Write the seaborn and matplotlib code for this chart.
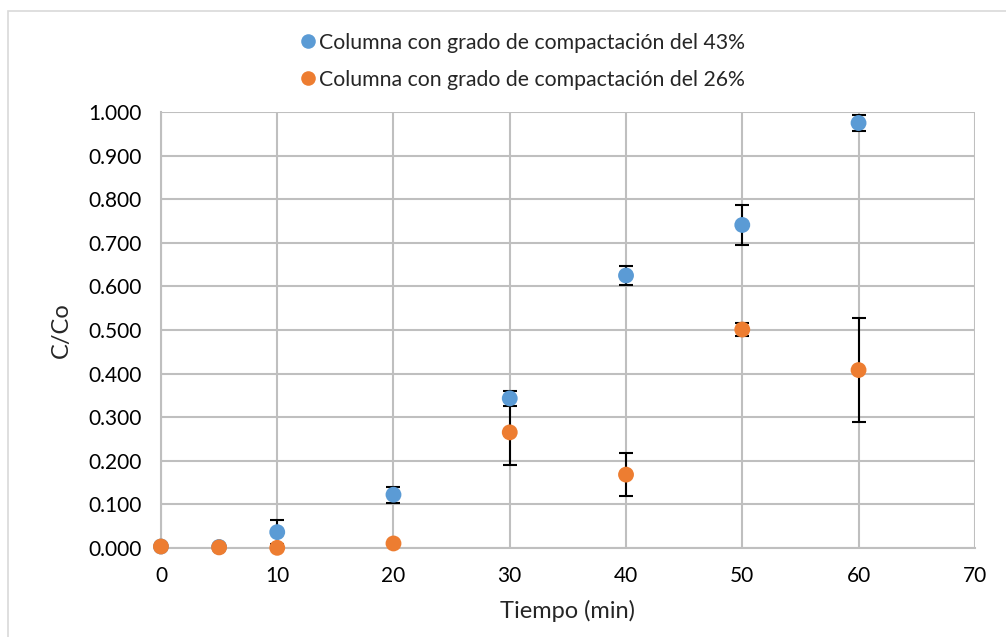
import matplotlib
matplotlib.use("Agg")
import matplotlib.pyplot as plt
import matplotlib.patches as mpatches
from matplotlib.lines import Line2D
from matplotlib.ticker import FormatStrFormatter, MultipleLocator
import seaborn as sns
import pandas as pd

# Breakthrough data: relative concentration C/Co over time
tiempo = [0, 5, 10, 20, 30, 40, 50, 60]
cc_43 = [0.003, 0.002, 0.036, 0.122, 0.343, 0.625, 0.741, 0.975]
err_43 = [0.0, 0.0, 0.028, 0.018, 0.017, 0.021, 0.045, 0.018]
cc_26 = [0.003, 0.001, 0.000, 0.010, 0.265, 0.168, 0.501, 0.408]
err_26 = [0.0, 0.0, 0.0, 0.0, 0.076, 0.049, 0.014, 0.119]
series_names = ["Columna con grado de compactación del 43%",
                "Columna con grado de compactación del 26%"]
colors = ["#5B9BD5", "#ED7D31"]

sns.set_theme(style="white")
plt.rcParams["font.family"] = ["Lato", "DejaVu Sans"]

df = pd.DataFrame({
    "Tiempo": tiempo * 2,
    "CC": cc_43 + cc_26,
    "err": err_43 + err_26,
    "Serie": [series_names[0]] * len(tiempo) + [series_names[1]] * len(tiempo),
})

fig = plt.figure(figsize=(10.06, 6.37), dpi=100)
ax = fig.add_axes([0.160, 0.140, 0.809, 0.684])

# Chart border
fig.patches.append(mpatches.Rectangle((8 / 1006, -0.05), 1.1, 1 - 11 / 637 + 0.05,
                                      transform=fig.transFigure, fill=False,
                                      edgecolor="#d9d9d9", linewidth=1.2, zorder=0))

# Error bars
for name in series_names:
    sub = df[df["Serie"] == name]
    ax.errorbar(sub["Tiempo"], sub["CC"], yerr=sub["err"], fmt="none",
                ecolor="black", elinewidth=1.5, capsize=5, capthick=1.5, zorder=3)

sns.scatterplot(data=df, x="Tiempo", y="CC", hue="Serie", palette=colors,
                hue_order=series_names, s=130, edgecolor="none", legend=False,
                ax=ax, zorder=4, clip_on=False)

ax.set_xlim(0, 70)
ax.set_ylim(0, 1.0)
ax.xaxis.set_major_locator(MultipleLocator(10))
ax.yaxis.set_major_locator(MultipleLocator(0.1))
ax.yaxis.set_major_formatter(FormatStrFormatter("%.3f"))
ax.grid(True, color="#bfbfbf", linewidth=1.5)
ax.set_axisbelow(True)
for side in ["top", "right"]:
    ax.spines[side].set_visible(False)
for side in ["left", "bottom"]:
    ax.spines[side].set_color("#bfbfbf")
    ax.spines[side].set_linewidth(1.5)
ax.tick_params(axis="x", length=0, labelsize=15, colors="#000000", pad=13)
ax.tick_params(axis="y", length=0, labelsize=15, colors="#000000", pad=14)
ax.set_xlabel("Tiempo (min)", fontsize=17, labelpad=10)
ax.set_ylabel("C/Co", fontsize=17, labelpad=12)

handles = [Line2D([0], [0], marker="o", linestyle="none", markersize=10.5,
                  markerfacecolor=c, markeredgecolor="none") for c in colors]
fig.legend(handles, series_names, loc="upper center", bbox_to_anchor=(0.518, 0.972),
           ncol=1, frameon=False, fontsize=15.3, handletextpad=0.0,
           labelspacing=0.8, handlelength=1.0, borderaxespad=0.3)

fig.savefig("out.png", dpi=100, facecolor="white")
